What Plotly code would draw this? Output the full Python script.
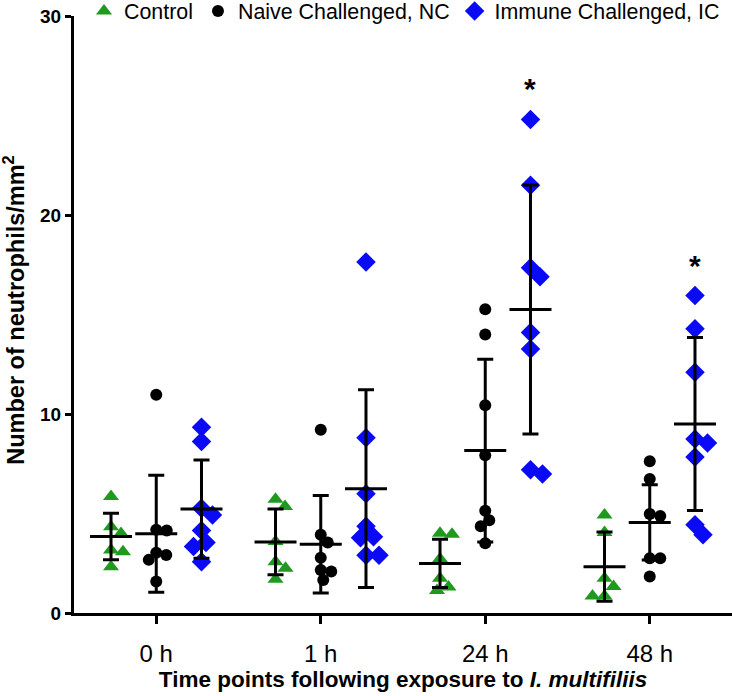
import plotly.graph_objects as go

# time points and groups
timepoints = ['0 h', '1 h', '24 h', '48 h']

control = [
    [5.85, 4.34, 4.0, 3.17, 3.08, 2.33],
    [5.72, 5.35, 3.59, 2.58, 2.25, 1.7],
    [4.01, 3.96, 2.72, 1.75, 1.31, 1.13],
    [4.93, 4.04, 1.74, 1.33, 0.86, 0.86],
]
naive = [
    [10.97, 4.18, 4.14, 3.03, 2.92, 2.67, 1.58],
    [9.21, 3.93, 3.54, 2.78, 2.16, 2.08, 1.66],
    [15.26, 13.99, 10.44, 7.93, 5.14, 4.66, 4.36, 3.51],
    [7.62, 6.73, 4.98, 4.88, 2.75, 2.75, 1.83],
]
immune = [
    [9.33, 8.62, 5.27, 4.93, 4.14, 3.54, 3.34, 2.58],
    [17.64, 8.81, 5.99, 4.36, 3.83, 3.78, 2.9, 2.9],
    [24.8, 21.5, 17.35, 16.9, 14.1, 13.27, 7.2, 6.98],
    [15.95, 14.28, 12.1, 8.74, 8.54, 7.84, 4.43, 3.93],
]

# mean +/- SD as drawn
control_mean = [3.84, 3.57, 2.49, 2.33]
control_sd = [1.17, 1.65, 1.21, 1.74]
naive_mean = [3.98, 3.46, 8.16, 4.55]
naive_sd = [2.94, 2.45, 4.59, 1.89]
immune_mean = [5.22, 6.25, 15.25, 9.5]
immune_sd = [2.47, 4.97, 6.26, 4.35]

# significance marks: (time index, height)
stars = [(2, 26.35), (3, 17.45)]

# figure is a bit wider than the window so the legend is not clipped
W, H = 750, 696
ML, MR, MT, MB = 74, 18, 16, 83
PX_X = (W - ML - MR) / 4.0
PX_Y = (H - MT - MB) / 30.0


def swarm(vals, center, d=11.0):
    # simple beeswarm so overlapping dots are spread sideways
    placed = []
    xs = []
    for v in vals:
        y = v * PX_Y
        best = 0.0
        for step in range(0, 60):
            for sgn in ([1] if step == 0 else [1, -1]):
                x = sgn * step * 0.5
                if all((x - px) ** 2 + (y - py) ** 2 >= d * d for px, py in placed):
                    best = x
                    break
            else:
                continue
            break
        placed.append((best, y))
        xs.append(center + best / PX_X)
    return xs


groups = [
    ('Control', control, control_mean, control_sd, -0.275, 'triangle-up', 14, '#1f9a1f'),
    ('Naive Challenged, NC', naive, naive_mean, naive_sd, 0.0, 'circle', 12, 'black'),
    ('Immune Challenged, IC', immune, immune_mean, immune_sd, 0.275, 'diamond', 15, '#0a0af5'),
]

fig = go.Figure()

for name, data, mean, sd, off, sym, size, col in groups:
    xs, ys = [], []
    for i, vals in enumerate(data):
        xs += swarm(vals, i + off, d=size * 0.85)
        ys += vals
    fig.add_trace(go.Scatter(
        x=xs, y=ys, mode='markers', name=name,
        marker=dict(symbol=sym, size=size, color=col, line=dict(width=0)),
    ))

for name, data, mean, sd, off, sym, size, col in groups:
    fig.add_trace(go.Scatter(
        x=[i + off for i in range(len(mean))], y=mean, mode='markers',
        showlegend=False, hoverinfo='skip',
        marker=dict(symbol='line-ew', size=30, color='black',
                    line=dict(width=3, color='black')),
        error_y=dict(type='data', array=sd, visible=True,
                     color='black', thickness=3, width=8),
    ))

for ti, h in stars:
    fig.add_annotation(x=ti + 0.275, y=h, text='<b>*</b>', showarrow=False,
                       font=dict(size=30, color='black'))

# y title as a rotated annotation so it can sit further left
fig.add_annotation(xref='paper', yref='paper', x=-0.0912, y=0.508,
                   text='<b>Number of neutrophils/mm<sup>2</sup></b>',
                   textangle=-90, showarrow=False,
                   xanchor='center', yanchor='middle',
                   font=dict(size=23.5, color='black'))

fig.update_layout(
    width=W, height=H,
    margin=dict(l=ML, r=MR, t=MT, b=MB, autoexpand=False),
    plot_bgcolor='white', paper_bgcolor='white',
    font=dict(family='Liberation Sans, Arial, sans-serif', color='black'),
    showlegend=True,
    legend=dict(orientation='h', xref='container', yref='container',
                x=84 / W, y=1 - 11 / H, xanchor='left', yanchor='middle',
                font=dict(size=21.4), bgcolor='rgba(0,0,0,0)',
                itemclick=False),
    xaxis=dict(
        range=[-0.5, 3.5], tickvals=[0, 1, 2, 3], ticktext=timepoints,
        showline=True, linecolor='black', linewidth=3,
        ticks='outside', ticklen=8, tickwidth=3, tickcolor='black',
        tickfont=dict(size=24), ticklabelstandoff=9, automargin=False,
        showgrid=False, zeroline=False,
        title=dict(text='<b>Time points following exposure to <i>I. multifiliis</i></b>',
                   font=dict(size=22.5), standoff=3),
    ),
    yaxis=dict(
        range=[0, 30], tickvals=[0, 10, 20, 30],
        showline=True, linecolor='black', linewidth=3,
        ticks='outside', ticklen=6, tickwidth=3, tickcolor='black',
        tickfont=dict(size=19, weight='bold'), automargin=False,
        ticklabeloverflow='allow',
        showgrid=False, zeroline=False,
    ),
)

# drop the default 8px page margin so the figure sits at the window corner
fig.write_html('out.html', config={'displayModeBar': False},
               post_script="document.body.style.margin='0px';")
